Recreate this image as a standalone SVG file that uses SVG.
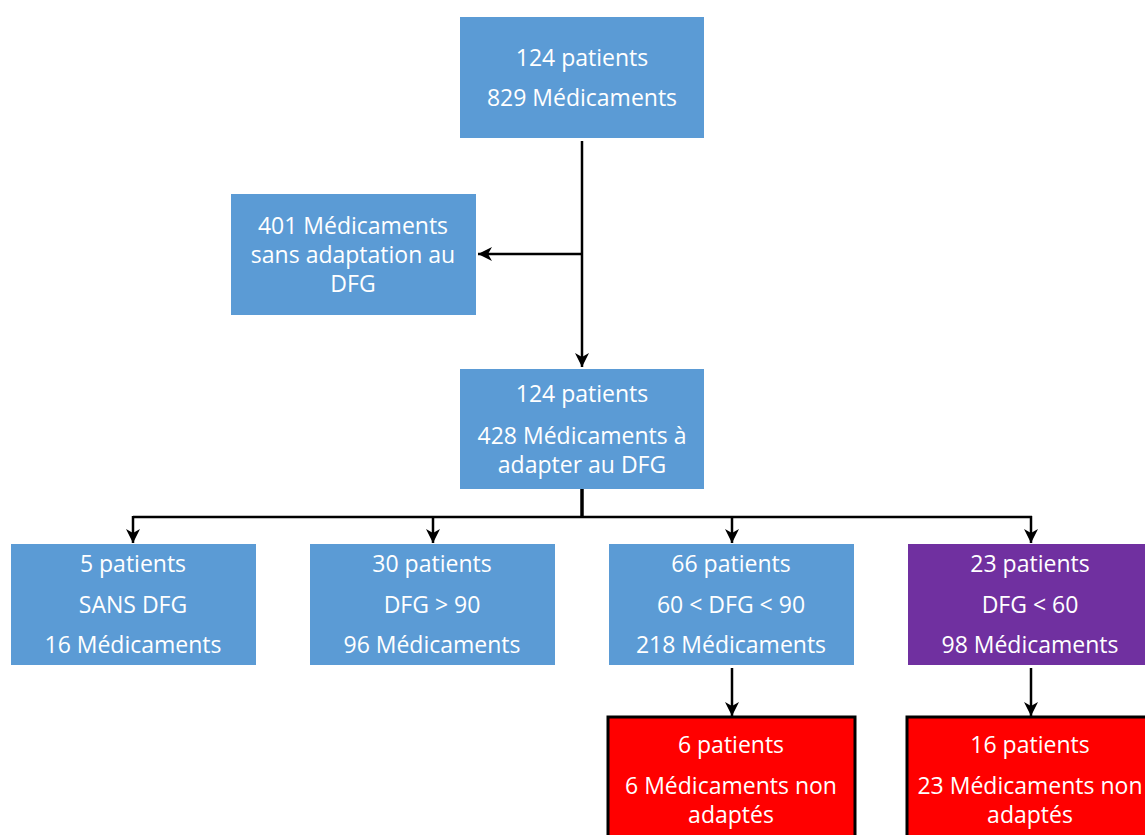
<svg xmlns="http://www.w3.org/2000/svg" width="1145" height="835" viewBox="0 0 1145 835">
<style>
.b{fill:#5B9BD5}
.p{fill:#7030A0}
.r{fill:#FF0000;stroke:#000;stroke-width:3}
text{font-family:"Open Sans","Noto Sans",sans-serif;font-size:23px;fill:#fff;text-anchor:middle;dominant-baseline:central}
.c{stroke:#000;stroke-width:2.5;fill:none}
</style>
<defs>
<marker id="a" viewBox="0 0 16 16" refX="15" refY="8" markerWidth="16" markerHeight="16" markerUnits="userSpaceOnUse" orient="auto">
<path d="M1,1 L15,8 L1,15 L5,8 Z" fill="#000"/>
</marker>
</defs>
<g id="connectors">
<path class="c" d="M582,141 V367" marker-end="url(#a)"/>
<path class="c" d="M582,254 H478" marker-end="url(#a)"/>
<path d="M582,489 V517" stroke="#000" stroke-width="3.5"/>
<path class="c" d="M133,517 H1032"/>
<path class="c" d="M133,516 V543" marker-end="url(#a)"/>
<path class="c" d="M433,516 V543" marker-end="url(#a)"/>
<path class="c" d="M732,516 V543" marker-end="url(#a)"/>
<path class="c" d="M1031,516 V543" marker-end="url(#a)"/>
<path class="c" d="M732,668 V716" marker-end="url(#a)"/>
<path class="c" d="M1031,668 V716" marker-end="url(#a)"/>
</g>
<g id="n1"><rect class="b" x="460" y="17" width="244" height="121"/><text x="582" y="57">124 patients</text><text x="582" y="97">829 Médicaments</text></g>
<g id="n2"><rect class="b" x="231" y="194" width="245" height="121"/><text x="353" y="225">401 Médicaments</text><text x="353" y="254">sans adaptation au</text><text x="353" y="283">DFG</text></g>
<g id="n3"><rect class="b" x="460" y="369" width="244" height="120"/><text x="582" y="393">124 patients</text><text x="582" y="435">428 Médicaments à</text><text x="582" y="464">adapter au DFG</text></g>
<g id="n4"><rect class="b" x="11" y="544" width="245" height="121"/><text x="133" y="563">5 patients</text><text x="133" y="604">SANS DFG</text><text x="133" y="644">16 Médicaments</text></g>
<g id="n5"><rect class="b" x="310" y="544" width="245" height="121"/><text x="432" y="563">30 patients</text><text x="432" y="604">DFG &gt; 90</text><text x="432" y="644">96 Médicaments</text></g>
<g id="n6"><rect class="b" x="609" y="544" width="245" height="121"/><text x="731" y="563">66 patients</text><text x="731" y="604">60 &lt; DFG &lt; 90</text><text x="731" y="644">218 Médicaments</text></g>
<g id="n7"><rect class="p" x="908" y="544" width="245" height="121"/><text x="1030" y="563">23 patients</text><text x="1030" y="604">DFG &lt; 60</text><text x="1030" y="644">98 Médicaments</text></g>
<g id="n8"><rect class="r" x="608" y="717" width="247" height="130"/><text x="731" y="744">6 patients</text><text x="731" y="785">6 Médicaments non</text><text x="731" y="814">adaptés</text></g>
<g id="n9"><rect class="r" x="907" y="717" width="247" height="130"/><text x="1030" y="744">16 patients</text><text x="1030" y="785">23 Médicaments non</text><text x="1030" y="814">adaptés</text></g>
</svg>
